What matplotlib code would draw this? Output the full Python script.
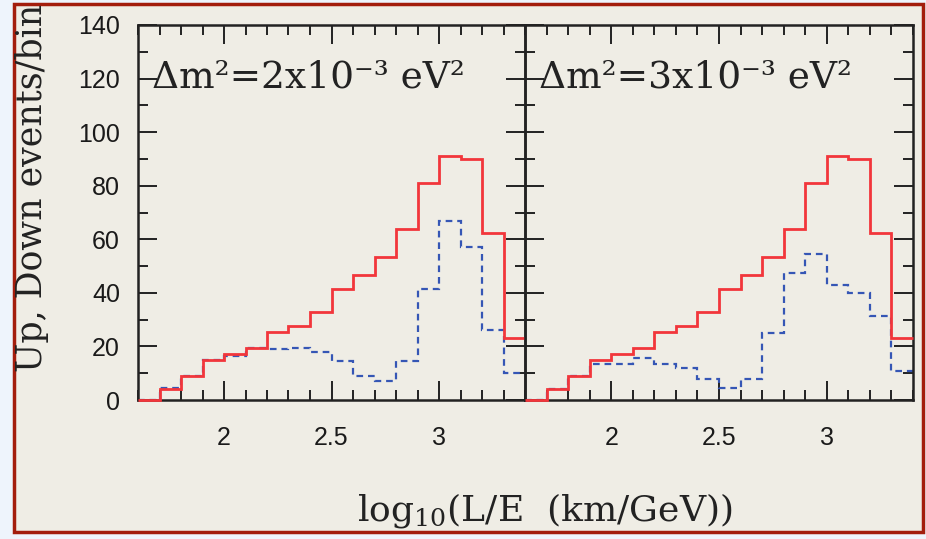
import numpy as np
import matplotlib
matplotlib.use("Agg")
import matplotlib.pyplot as plt
from matplotlib.patches import Rectangle
from matplotlib.ticker import MultipleLocator

plt.rcParams['mathtext.fontset'] = 'dejavuserif'

# bin edges of log10(L/E) histograms
edges = [1.6, 1.7, 1.8, 1.9, 2.0, 2.1, 2.2, 2.3, 2.4, 2.5, 2.6, 2.7, 2.8, 2.9,
         3.0, 3.1, 3.2, 3.3, 3.4]

# down-going events (red, solid) - same in both panels
down_events = [0, 4, 9, 15, 17, 19.5, 25.5, 27.5, 33, 41.5, 46.5, 53.5, 64,
               81, 91, 90, 62.5, 23]

# up-going events (blue, dashed)
up_dm2_2 = [0, 4.5, 9, 15, 16.5, 19.5, 19, 19.5, 18, 14.5, 9, 7, 14.5,
            41.5, 67, 57, 26, 10]
up_dm2_3 = [0, 4, 9, 13.5, 13.5, 15.5, 13.5, 12, 8, 4.5, 8, 25, 47.5,
            54.5, 43, 40, 31.5, 11]

panel_titles = ['Δm²=2x10⁻³ eV²', 'Δm²=3x10⁻³ eV²']
up_series = [up_dm2_2, up_dm2_3]

xtick_vals = [2.0, 2.5, 3.0]
xtick_labels = ['2', '2.5', '3']
ytick_vals = [0, 20, 40, 60, 80, 100, 120, 140]

fig = plt.figure(figsize=(9.26, 5.39), dpi=100, facecolor='#eef4fc')

# beige card with dark red border
fig.patches.append(Rectangle((14 / 926, 1 - 532 / 539), 909 / 926, 528 / 539,
                             transform=fig.transFigure, facecolor='#efede5',
                             edgecolor='#a31d0d', linewidth=2.5, zorder=-10))

ax1 = fig.add_axes([138 / 926, 1 - 400 / 539, 387 / 926, 375 / 539])
ax2 = fig.add_axes([525 / 926, 1 - 400 / 539, 388 / 926, 375 / 539])

for i, ax in enumerate([ax1, ax2]):
    ax.set_facecolor('none')
    ax.stairs(up_series[i], edges, baseline=None, color='#3556b5',
              linewidth=1.6, linestyle=(0, (3, 2.2)), zorder=2)
    ax.stairs(down_events, edges, baseline=None, color='#f2363b',
              linewidth=2.0, zorder=3, clip_on=False)
    ax.set_xlim(1.6, 3.4)
    ax.set_ylim(0, 140)
    ax.set_xticks(xtick_vals)
    ax.set_xticklabels(xtick_labels)
    ax.xaxis.set_minor_locator(MultipleLocator(0.1))
    ax.set_yticks(ytick_vals)
    ax.yaxis.set_minor_locator(MultipleLocator(10))
    ax.tick_params(which='both', direction='in', top=True, right=True,
                   width=1.4, color='#222222')
    ax.tick_params(which='major', length=14)
    ax.tick_params(which='minor', length=7)
    ax.tick_params(axis='x', which='major', pad=19, labelsize=18)
    ax.tick_params(axis='y', which='major', pad=13, labelsize=18)
    for lab in ax.get_xticklabels() + ax.get_yticklabels():
        lab.set_family('Liberation Sans')
        lab.set_color('#1a1a1a')
    for sp in ax.spines.values():
        sp.set_linewidth(1.8)
        sp.set_color('#222222')
    ax.text(0.035, 0.86, panel_titles[i], transform=ax.transAxes,
            family='DejaVu Serif', fontsize=27, va='center', ha='left',
            color='#222222')

ax2.tick_params(axis='y', labelleft=False)

fig.text(32 / 926, 1 - 188 / 539, 'Up, Down events/bin', rotation=90,
         family='DejaVu Serif', fontsize=25, ha='center', va='center',
         color='#222222')
fig.text(545 / 926, 1 - 510 / 539, r'log$_{10}$(L/E  (km/GeV))',
         family='DejaVu Serif', fontsize=26, ha='center', va='center',
         color='#222222')

fig.savefig('out.png', dpi=100, facecolor=fig.get_facecolor())
